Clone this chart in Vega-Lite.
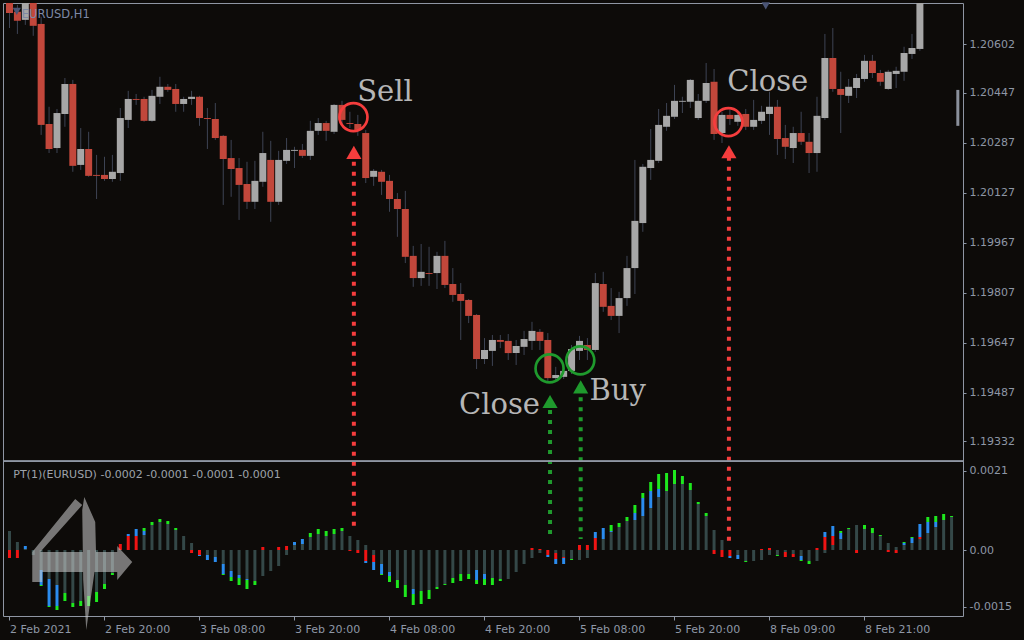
{
  "$schema": "https://vega.github.io/schema/vega-lite/v6.json",
  "width": 960,
  "height": 613,
  "autosize": {"type": "none"},
  "padding": {"left": 3, "top": 3, "right": 61, "bottom": 24},
  "background": "#0d0b09",
  "view": {"stroke": "#8f96a3", "strokeWidth": 1},
  "config": {
    "axis": {"labelFont": "DejaVu Sans", "labelFontSize": 11, "labelColor": "#8e97a6", "tickColor": "#8e97a6", "domain": false, "grid": false, "labelOverlap": false, "labelFlush": false}
  },
  "datasets": {
    "candles": [
      {"i":0,"o":1.20750,"h":1.20770,"l":1.20654,"c":1.20702},
      {"i":1,"o":1.20706,"h":1.20728,"l":1.20635,"c":1.20677},
      {"i":2,"o":1.20680,"h":1.20770,"l":1.20664,"c":1.20750},
      {"i":3,"o":1.20754,"h":1.20770,"l":1.20629,"c":1.20661},
      {"i":4,"o":1.20667,"h":1.20690,"l":1.20312,"c":1.20344},
      {"i":5,"o":1.20347,"h":1.20402,"l":1.20254,"c":1.20267},
      {"i":6,"o":1.20270,"h":1.20395,"l":1.20254,"c":1.20382},
      {"i":7,"o":1.20379,"h":1.20494,"l":1.20338,"c":1.20475},
      {"i":8,"o":1.20475,"h":1.20488,"l":1.20194,"c":1.20213},
      {"i":9,"o":1.20216,"h":1.20334,"l":1.20200,"c":1.20267},
      {"i":10,"o":1.20267,"h":1.20322,"l":1.20178,"c":1.20181},
      {"i":11,"o":1.20184,"h":1.20248,"l":1.20107,"c":1.20181},
      {"i":12,"o":1.20184,"h":1.20242,"l":1.20165,"c":1.20171},
      {"i":13,"o":1.20171,"h":1.20248,"l":1.20162,"c":1.20194},
      {"i":14,"o":1.20190,"h":1.20398,"l":1.20165,"c":1.20366},
      {"i":15,"o":1.20360,"h":1.20453,"l":1.20334,"c":1.20427},
      {"i":16,"o":1.20427,"h":1.20443,"l":1.20408,"c":1.20424},
      {"i":17,"o":1.20427,"h":1.20434,"l":1.20354,"c":1.20357},
      {"i":18,"o":1.20357,"h":1.20456,"l":1.20354,"c":1.20437},
      {"i":19,"o":1.20434,"h":1.20498,"l":1.20411,"c":1.20466},
      {"i":20,"o":1.20466,"h":1.20475,"l":1.20450,"c":1.20456},
      {"i":21,"o":1.20459,"h":1.20475,"l":1.20386,"c":1.20411},
      {"i":22,"o":1.20411,"h":1.20434,"l":1.20386,"c":1.20427},
      {"i":23,"o":1.20427,"h":1.20453,"l":1.20408,"c":1.20434},
      {"i":24,"o":1.20434,"h":1.20437,"l":1.20341,"c":1.20366},
      {"i":25,"o":1.20366,"h":1.20398,"l":1.20267,"c":1.20363},
      {"i":26,"o":1.20363,"h":1.20414,"l":1.20296,"c":1.20302},
      {"i":27,"o":1.20309,"h":1.20312,"l":1.20088,"c":1.20235},
      {"i":28,"o":1.20238,"h":1.20296,"l":1.20114,"c":1.20203},
      {"i":29,"o":1.20206,"h":1.20238,"l":1.20040,"c":1.20152},
      {"i":30,"o":1.20155,"h":1.20226,"l":1.20075,"c":1.20098},
      {"i":31,"o":1.20098,"h":1.20229,"l":1.20075,"c":1.20165},
      {"i":32,"o":1.20162,"h":1.20322,"l":1.20146,"c":1.20254},
      {"i":33,"o":1.20232,"h":1.20293,"l":1.20034,"c":1.20098},
      {"i":34,"o":1.20098,"h":1.20261,"l":1.20088,"c":1.20232},
      {"i":35,"o":1.20229,"h":1.20302,"l":1.20219,"c":1.20264},
      {"i":36,"o":1.20261,"h":1.20274,"l":1.20206,"c":1.20264},
      {"i":37,"o":1.20264,"h":1.20283,"l":1.20238,"c":1.20245},
      {"i":38,"o":1.20245,"h":1.20357,"l":1.20232,"c":1.20325},
      {"i":39,"o":1.20325,"h":1.20366,"l":1.20312,"c":1.20350},
      {"i":40,"o":1.20350,"h":1.20357,"l":1.20293,"c":1.20325},
      {"i":41,"o":1.20322,"h":1.20411,"l":1.20315,"c":1.20408},
      {"i":42,"o":1.20408,"h":1.20421,"l":1.20344,"c":1.20360},
      {"i":43,"o":1.20350,"h":1.20386,"l":1.20334,"c":1.20347},
      {"i":44,"o":1.20347,"h":1.20376,"l":1.20309,"c":1.20328},
      {"i":45,"o":1.20318,"h":1.20328,"l":1.20158,"c":1.20174},
      {"i":46,"o":1.20178,"h":1.20203,"l":1.20149,"c":1.20197},
      {"i":47,"o":1.20194,"h":1.20200,"l":1.20120,"c":1.20162},
      {"i":48,"o":1.20165,"h":1.20184,"l":1.20066,"c":1.20107},
      {"i":49,"o":1.20107,"h":1.20126,"l":1.19986,"c":1.20075},
      {"i":50,"o":1.20075,"h":1.20133,"l":1.19902,"c":1.19922},
      {"i":51,"o":1.19925,"h":1.19957,"l":1.19826,"c":1.19854},
      {"i":52,"o":1.19854,"h":1.19963,"l":1.19829,"c":1.19874},
      {"i":53,"o":1.19870,"h":1.19954,"l":1.19829,"c":1.19867},
      {"i":54,"o":1.19870,"h":1.19938,"l":1.19819,"c":1.19925},
      {"i":55,"o":1.19925,"h":1.19973,"l":1.19822,"c":1.19832},
      {"i":56,"o":1.19835,"h":1.19886,"l":1.19778,"c":1.19800},
      {"i":57,"o":1.19803,"h":1.19838,"l":1.19656,"c":1.19781},
      {"i":58,"o":1.19784,"h":1.19787,"l":1.19710,"c":1.19733},
      {"i":59,"o":1.19736,"h":1.19739,"l":1.19563,"c":1.19595},
      {"i":60,"o":1.19595,"h":1.19662,"l":1.19579,"c":1.19624},
      {"i":61,"o":1.19621,"h":1.19672,"l":1.19573,"c":1.19656},
      {"i":62,"o":1.19656,"h":1.19672,"l":1.19630,"c":1.19650},
      {"i":63,"o":1.19653,"h":1.19675,"l":1.19592,"c":1.19614},
      {"i":64,"o":1.19614,"h":1.19656,"l":1.19576,"c":1.19637},
      {"i":65,"o":1.19634,"h":1.19685,"l":1.19608,"c":1.19659},
      {"i":66,"o":1.19653,"h":1.19714,"l":1.19624,"c":1.19685},
      {"i":67,"o":1.19682,"h":1.19691,"l":1.19624,"c":1.19653},
      {"i":68,"o":1.19656,"h":1.19678,"l":1.19525,"c":1.19534},
      {"i":69,"o":1.19534,"h":1.19570,"l":1.19528,"c":1.19544},
      {"i":70,"o":1.19538,"h":1.19573,"l":1.19531,"c":1.19557},
      {"i":71,"o":1.19557,"h":1.19640,"l":1.19547,"c":1.19627},
      {"i":72,"o":1.19621,"h":1.19669,"l":1.19592,"c":1.19653},
      {"i":73,"o":1.19640,"h":1.19662,"l":1.19592,"c":1.19624},
      {"i":74,"o":1.19624,"h":1.19870,"l":1.19618,"c":1.19838},
      {"i":75,"o":1.19835,"h":1.19874,"l":1.19746,"c":1.19762},
      {"i":76,"o":1.19765,"h":1.19822,"l":1.19720,"c":1.19733},
      {"i":77,"o":1.19733,"h":1.19810,"l":1.19678,"c":1.19790},
      {"i":78,"o":1.19790,"h":1.19925,"l":1.19765,"c":1.19886},
      {"i":79,"o":1.19886,"h":1.20232,"l":1.19803,"c":1.20037},
      {"i":80,"o":1.20030,"h":1.20219,"l":1.20002,"c":1.20210},
      {"i":81,"o":1.20206,"h":1.20331,"l":1.20168,"c":1.20232},
      {"i":82,"o":1.20229,"h":1.20395,"l":1.20222,"c":1.20344},
      {"i":83,"o":1.20338,"h":1.20414,"l":1.20325,"c":1.20373},
      {"i":84,"o":1.20370,"h":1.20472,"l":1.20363,"c":1.20421},
      {"i":85,"o":1.20418,"h":1.20434,"l":1.20382,"c":1.20421},
      {"i":86,"o":1.20418,"h":1.20491,"l":1.20398,"c":1.20488},
      {"i":87,"o":1.20366,"h":1.20443,"l":1.20360,"c":1.20421},
      {"i":88,"o":1.20421,"h":1.20542,"l":1.20414,"c":1.20478},
      {"i":89,"o":1.20482,"h":1.20523,"l":1.20296,"c":1.20315},
      {"i":90,"o":1.20318,"h":1.20386,"l":1.20286,"c":1.20376},
      {"i":91,"o":1.20376,"h":1.20392,"l":1.20344,"c":1.20363},
      {"i":92,"o":1.20354,"h":1.20389,"l":1.20341,"c":1.20376},
      {"i":93,"o":1.20379,"h":1.20395,"l":1.20328,"c":1.20338},
      {"i":94,"o":1.20338,"h":1.20424,"l":1.20328,"c":1.20360},
      {"i":95,"o":1.20357,"h":1.20405,"l":1.20347,"c":1.20386},
      {"i":96,"o":1.20379,"h":1.20450,"l":1.20312,"c":1.20402},
      {"i":97,"o":1.20402,"h":1.20424,"l":1.20248,"c":1.20299},
      {"i":98,"o":1.20302,"h":1.20344,"l":1.20235,"c":1.20274},
      {"i":99,"o":1.20270,"h":1.20338,"l":1.20222,"c":1.20318},
      {"i":100,"o":1.20318,"h":1.20386,"l":1.20280,"c":1.20290},
      {"i":101,"o":1.20290,"h":1.20318,"l":1.20190,"c":1.20254},
      {"i":102,"o":1.20254,"h":1.20434,"l":1.20194,"c":1.20373},
      {"i":103,"o":1.20366,"h":1.20635,"l":1.20360,"c":1.20558},
      {"i":104,"o":1.20558,"h":1.20654,"l":1.20450,"c":1.20459},
      {"i":105,"o":1.20459,"h":1.20514,"l":1.20318,"c":1.20440},
      {"i":106,"o":1.20437,"h":1.20491,"l":1.20414,"c":1.20466},
      {"i":107,"o":1.20462,"h":1.20507,"l":1.20430,"c":1.20494},
      {"i":108,"o":1.20491,"h":1.20568,"l":1.20482,"c":1.20549},
      {"i":109,"o":1.20549,"h":1.20568,"l":1.20494,"c":1.20510},
      {"i":110,"o":1.20510,"h":1.20520,"l":1.20469,"c":1.20482},
      {"i":111,"o":1.20459,"h":1.20520,"l":1.20456,"c":1.20514},
      {"i":112,"o":1.20507,"h":1.20530,"l":1.20462,"c":1.20517},
      {"i":113,"o":1.20514,"h":1.20594,"l":1.20485,"c":1.20574},
      {"i":114,"o":1.20571,"h":1.20635,"l":1.20555,"c":1.20590},
      {"i":115,"o":1.20587,"h":1.20776,"l":1.20581,"c":1.20760}
    ],
    "pt": [
      {"i":0,"s":"grey","a":0,"b":0.000504},{"i":0,"s":"red","a":0,"b":-0.000212},
      {"i":1,"s":"grey","a":0,"b":0.000212},{"i":1,"s":"red","a":0,"b":-0.000212},
      {"i":2,"s":"grey","a":0,"b":0.000027},{"i":2,"s":"blue","a":0.000027,"b":0.000106},
      {"i":3,"s":"grey","a":0,"b":-0.000133},
      {"i":4,"s":"grey","a":0,"b":-0.00053},{"i":4,"s":"blue","a":-0.00053,"b":-0.000928},{"i":4,"s":"green","a":-0.000928,"b":-0.000954},
      {"i":5,"s":"grey","a":0,"b":-0.000769},{"i":5,"s":"blue","a":-0.000769,"b":-0.001484},{"i":5,"s":"green","a":-0.001484,"b":-0.001511},
      {"i":6,"s":"grey","a":0,"b":-0.000928},{"i":6,"s":"blue","a":-0.000928,"b":-0.001484},{"i":6,"s":"green","a":-0.001484,"b":-0.00159},
      {"i":7,"s":"grey","a":0,"b":-0.00114},{"i":7,"s":"green","a":-0.00114,"b":-0.001352},
      {"i":8,"s":"grey","a":0,"b":-0.001405},{"i":8,"s":"green","a":-0.001405,"b":-0.001511},
      {"i":9,"s":"grey","a":0,"b":-0.001352},{"i":9,"s":"green","a":-0.001352,"b":-0.001484},
      {"i":10,"s":"grey","a":0,"b":-0.001219},{"i":10,"s":"green","a":-0.001219,"b":-0.001484},
      {"i":11,"s":"grey","a":0,"b":-0.001113},{"i":11,"s":"green","a":-0.001113,"b":-0.001378},
      {"i":12,"s":"grey","a":0,"b":-0.000901},{"i":12,"s":"green","a":-0.000901,"b":-0.001034},
      {"i":13,"s":"grey","a":0,"b":-0.00061},{"i":13,"s":"green","a":-0.00061,"b":-0.000663},
      {"i":14,"s":"red","a":0,"b":0.000159},
      {"i":15,"s":"red","a":0,"b":0.000371},{"i":15,"s":"blue","a":0.000371,"b":0.000424},
      {"i":16,"s":"red","a":0,"b":0.000371},{"i":16,"s":"blue","a":0.000371,"b":0.000557},
      {"i":17,"s":"grey","a":0,"b":0.000398},{"i":17,"s":"blue","a":0.000398,"b":0.000504},{"i":17,"s":"green","a":0.000504,"b":0.000583},
      {"i":18,"s":"grey","a":0,"b":0.000663},{"i":18,"s":"green","a":0.000663,"b":0.000742},
      {"i":19,"s":"grey","a":0,"b":0.000742},{"i":19,"s":"green","a":0.000742,"b":0.000822},
      {"i":20,"s":"grey","a":0,"b":0.000689},{"i":20,"s":"green","a":0.000689,"b":0.000769},
      {"i":21,"s":"grey","a":0,"b":0.00053},{"i":21,"s":"green","a":0.00053,"b":0.000583},
      {"i":22,"s":"grey","a":0,"b":0.000371},
      {"i":23,"s":"grey","a":0,"b":0.000186},{"i":23,"s":"red","a":0,"b":-0.00008},
      {"i":24,"s":"red","a":0,"b":-0.000133},{"i":24,"s":"blue","a":-0.000133,"b":-0.000159},
      {"i":25,"s":"grey","a":0,"b":-0.000133},{"i":25,"s":"blue","a":-0.000133,"b":-0.000265},
      {"i":26,"s":"grey","a":0,"b":-0.000186},{"i":26,"s":"blue","a":-0.000186,"b":-0.000318},
      {"i":27,"s":"grey","a":0,"b":-0.000371},{"i":27,"s":"blue","a":-0.000371,"b":-0.000636},{"i":27,"s":"green","a":-0.000636,"b":-0.000663},
      {"i":28,"s":"grey","a":0,"b":-0.000557},{"i":28,"s":"blue","a":-0.000557,"b":-0.000716},{"i":28,"s":"green","a":-0.000716,"b":-0.000822},
      {"i":29,"s":"grey","a":0,"b":-0.000663},{"i":29,"s":"blue","a":-0.000663,"b":-0.000742},{"i":29,"s":"green","a":-0.000742,"b":-0.000928},
      {"i":30,"s":"grey","a":0,"b":-0.000769},{"i":30,"s":"blue","a":-0.000769,"b":-0.000795},{"i":30,"s":"green","a":-0.000795,"b":-0.001034},
      {"i":31,"s":"grey","a":0,"b":-0.000822},{"i":31,"s":"green","a":-0.000822,"b":-0.000928},
      {"i":32,"s":"grey","a":0,"b":-0.000689},{"i":32,"s":"red","a":0,"b":0.00008},
      {"i":33,"s":"grey","a":0,"b":-0.000557},
      {"i":34,"s":"grey","a":0,"b":-0.000424},{"i":34,"s":"red","a":0,"b":0.00008},
      {"i":35,"s":"grey","a":0,"b":-0.000133},{"i":35,"s":"red","a":0,"b":0.000106},
      {"i":36,"s":"grey","a":0,"b":0.000133},{"i":36,"s":"blue","a":0.000133,"b":0.000212},
      {"i":37,"s":"grey","a":0,"b":0.000159},{"i":37,"s":"blue","a":0.000159,"b":0.000292},
      {"i":38,"s":"grey","a":0,"b":0.000345},{"i":38,"s":"green","a":0.000345,"b":0.000451},
      {"i":39,"s":"grey","a":0,"b":0.000424},{"i":39,"s":"green","a":0.000424,"b":0.000557},
      {"i":40,"s":"grey","a":0,"b":0.000371},{"i":40,"s":"green","a":0.000371,"b":0.000504},
      {"i":41,"s":"grey","a":0,"b":0.000424},{"i":41,"s":"green","a":0.000424,"b":0.000557},
      {"i":42,"s":"grey","a":0,"b":0.000504},{"i":42,"s":"green","a":0.000504,"b":0.000583},
      {"i":43,"s":"grey","a":0,"b":0.000371},{"i":43,"s":"red","a":0,"b":-0.000027},
      {"i":44,"s":"grey","a":0,"b":0.000265},{"i":44,"s":"red","a":0,"b":-0.00008},
      {"i":45,"s":"grey","a":0,"b":0.000133},{"i":45,"s":"red","a":0,"b":-0.000292},{"i":45,"s":"blue","a":-0.000292,"b":-0.000345},
      {"i":46,"s":"grey","a":0,"b":-0.000133},{"i":46,"s":"red","a":-0.000133,"b":-0.000318},{"i":46,"s":"blue","a":-0.000318,"b":-0.00053},
      {"i":47,"s":"grey","a":0,"b":-0.000371},{"i":47,"s":"blue","a":-0.000371,"b":-0.000636},{"i":47,"s":"green","a":-0.000636,"b":-0.000663},
      {"i":48,"s":"grey","a":0,"b":-0.000583},{"i":48,"s":"blue","a":-0.000583,"b":-0.000689},{"i":48,"s":"green","a":-0.000689,"b":-0.000848},
      {"i":49,"s":"grey","a":0,"b":-0.000795},{"i":49,"s":"green","a":-0.000795,"b":-0.001007},
      {"i":50,"s":"grey","a":0,"b":-0.000928},{"i":50,"s":"green","a":-0.000928,"b":-0.001246},
      {"i":51,"s":"grey","a":0,"b":-0.001034},{"i":51,"s":"blue","a":-0.001034,"b":-0.001166},{"i":51,"s":"green","a":-0.001166,"b":-0.001458},
      {"i":52,"s":"grey","a":0,"b":-0.001087},{"i":52,"s":"green","a":-0.001087,"b":-0.001431},
      {"i":53,"s":"grey","a":0,"b":-0.00106},{"i":53,"s":"green","a":-0.00106,"b":-0.001299},
      {"i":54,"s":"grey","a":0,"b":-0.000981},{"i":54,"s":"green","a":-0.000981,"b":-0.001034},
      {"i":55,"s":"grey","a":0,"b":-0.000901},{"i":55,"s":"green","a":-0.000901,"b":-0.000928},
      {"i":56,"s":"grey","a":0,"b":-0.000742},{"i":56,"s":"green","a":-0.000742,"b":-0.000875},
      {"i":57,"s":"grey","a":0,"b":-0.000636},{"i":57,"s":"green","a":-0.000636,"b":-0.000822},
      {"i":58,"s":"grey","a":0,"b":-0.000636},{"i":58,"s":"green","a":-0.000636,"b":-0.000769},
      {"i":59,"s":"grey","a":0,"b":-0.00053},{"i":59,"s":"blue","a":-0.00053,"b":-0.000795},{"i":59,"s":"green","a":-0.000795,"b":-0.000901},
      {"i":60,"s":"grey","a":0,"b":-0.000636},{"i":60,"s":"blue","a":-0.000636,"b":-0.000769},{"i":60,"s":"green","a":-0.000769,"b":-0.000928},
      {"i":61,"s":"grey","a":0,"b":-0.000742},{"i":61,"s":"green","a":-0.000742,"b":-0.000928},
      {"i":62,"s":"grey","a":0,"b":-0.000769},{"i":62,"s":"green","a":-0.000769,"b":-0.000822},
      {"i":63,"s":"grey","a":0,"b":-0.000769},
      {"i":64,"s":"grey","a":0,"b":-0.000583},
      {"i":65,"s":"grey","a":0,"b":-0.000371},
      {"i":66,"s":"grey","a":0,"b":-0.000212},{"i":66,"s":"red","a":0,"b":0.000053},
      {"i":67,"s":"grey","a":0,"b":-0.00008},{"i":67,"s":"red","a":0,"b":0.000027},
      {"i":68,"s":"red","a":0,"b":-0.000133},{"i":68,"s":"blue","a":-0.000133,"b":-0.000186},
      {"i":69,"s":"grey","a":0,"b":-0.00008},{"i":69,"s":"red","a":-0.00008,"b":-0.000239},{"i":69,"s":"blue","a":-0.000239,"b":-0.000371},
      {"i":70,"s":"grey","a":0,"b":-0.000186},{"i":70,"s":"red","a":-0.000186,"b":-0.000212},{"i":70,"s":"blue","a":-0.000212,"b":-0.000371},
      {"i":71,"s":"grey","a":0,"b":-0.000239},{"i":71,"s":"green","a":-0.000239,"b":-0.000265},
      {"i":72,"s":"grey","a":0,"b":-0.000265},{"i":72,"s":"red","a":0,"b":0.000133},
      {"i":73,"s":"grey","a":0,"b":-0.000212},{"i":73,"s":"red","a":0,"b":0.000133},
      {"i":74,"s":"red","a":0,"b":0.000318},{"i":74,"s":"blue","a":0.000318,"b":0.000477},
      {"i":75,"s":"grey","a":0,"b":0.000292},{"i":75,"s":"blue","a":0.000292,"b":0.000583},
      {"i":76,"s":"grey","a":0,"b":0.000477},{"i":76,"s":"blue","a":0.000477,"b":0.000504},{"i":76,"s":"green","a":0.000504,"b":0.000663},
      {"i":77,"s":"grey","a":0,"b":0.00061},{"i":77,"s":"green","a":0.00061,"b":0.000716},
      {"i":78,"s":"grey","a":0,"b":0.000769},{"i":78,"s":"green","a":0.000769,"b":0.000875},
      {"i":79,"s":"grey","a":0,"b":0.000795},{"i":79,"s":"blue","a":0.000795,"b":0.000981},{"i":79,"s":"green","a":0.000981,"b":0.001193},
      {"i":80,"s":"grey","a":0,"b":0.000901},{"i":80,"s":"blue","a":0.000901,"b":0.001378},{"i":80,"s":"green","a":0.001378,"b":0.001511},
      {"i":81,"s":"grey","a":0,"b":0.001113},{"i":81,"s":"blue","a":0.001113,"b":0.001564},{"i":81,"s":"green","a":0.001564,"b":0.001802},
      {"i":82,"s":"grey","a":0,"b":0.001405},{"i":82,"s":"blue","a":0.001405,"b":0.001617},{"i":82,"s":"green","a":0.001617,"b":0.002014},
      {"i":83,"s":"grey","a":0,"b":0.001564},{"i":83,"s":"green","a":0.001564,"b":0.002041},
      {"i":84,"s":"grey","a":0,"b":0.001749},{"i":84,"s":"green","a":0.001749,"b":0.00212},
      {"i":85,"s":"grey","a":0,"b":0.001749},{"i":85,"s":"green","a":0.001749,"b":0.001961},
      {"i":86,"s":"grey","a":0,"b":0.00159},{"i":86,"s":"green","a":0.00159,"b":0.001776},
      {"i":87,"s":"grey","a":0,"b":0.001219},{"i":87,"s":"green","a":0.001219,"b":0.001272},
      {"i":88,"s":"grey","a":0,"b":0.000901},{"i":88,"s":"green","a":0.000901,"b":0.000981},
      {"i":89,"s":"grey","a":0,"b":0.00053},{"i":89,"s":"red","a":0,"b":-0.000106},
      {"i":90,"s":"grey","a":0,"b":0.000265},{"i":90,"s":"red","a":0,"b":-0.000186},
      {"i":91,"s":"red","a":0,"b":-0.000159},{"i":91,"s":"blue","a":-0.000159,"b":-0.000212},
      {"i":92,"s":"grey","a":0,"b":-0.000133},{"i":92,"s":"blue","a":-0.000133,"b":-0.000239},
      {"i":93,"s":"grey","a":0,"b":-0.000292},{"i":93,"s":"green","a":-0.000292,"b":-0.000318},
      {"i":94,"s":"grey","a":0,"b":-0.000292},
      {"i":95,"s":"grey","a":0,"b":-0.000265},{"i":95,"s":"red","a":0,"b":0.000027},
      {"i":96,"s":"grey","a":0,"b":-0.000133},{"i":96,"s":"red","a":0,"b":0.000053},
      {"i":97,"s":"grey","a":0,"b":-0.000133},{"i":97,"s":"green","a":-0.000133,"b":-0.000159},
      {"i":98,"s":"grey","a":0,"b":-0.000053},{"i":98,"s":"red","a":-0.000053,"b":-0.000186},
      {"i":99,"s":"grey","a":0,"b":-0.000106},{"i":99,"s":"red","a":-0.000106,"b":-0.000186},
      {"i":100,"s":"grey","a":0,"b":-0.000159},{"i":100,"s":"blue","a":-0.000159,"b":-0.000265},{"i":100,"s":"green","a":-0.000265,"b":-0.000292},
      {"i":101,"s":"grey","a":0,"b":-0.000292},{"i":101,"s":"green","a":-0.000292,"b":-0.000371},
      {"i":102,"s":"grey","a":0,"b":-0.000292},{"i":102,"s":"red","a":0,"b":0.000053},
      {"i":103,"s":"grey","a":0,"b":-0.00008},{"i":103,"s":"red","a":0,"b":0.000345},{"i":103,"s":"blue","a":0.000345,"b":0.000477},
      {"i":104,"s":"grey","a":0,"b":0.000133},{"i":104,"s":"red","a":0.000133,"b":0.000371},{"i":104,"s":"blue","a":0.000371,"b":0.000636},
      {"i":105,"s":"grey","a":0,"b":0.000292},{"i":105,"s":"blue","a":0.000292,"b":0.000451},{"i":105,"s":"green","a":0.000451,"b":0.000504},
      {"i":106,"s":"grey","a":0,"b":0.000557},{"i":106,"s":"green","a":0.000557,"b":0.000583},
      {"i":107,"s":"grey","a":0,"b":0.000663},{"i":107,"s":"red","a":0,"b":-0.00008},
      {"i":108,"s":"grey","a":0,"b":0.000557},{"i":108,"s":"green","a":0.000557,"b":0.000663},
      {"i":109,"s":"grey","a":0,"b":0.000451},{"i":109,"s":"green","a":0.000451,"b":0.000583},
      {"i":110,"s":"grey","a":0,"b":0.000371},{"i":110,"s":"green","a":0.000371,"b":0.000398},
      {"i":111,"s":"grey","a":0,"b":0.000186},{"i":111,"s":"red","a":0,"b":-0.000053},
      {"i":112,"s":"grey","a":0,"b":0.00008},{"i":112,"s":"red","a":0,"b":-0.00008},
      {"i":113,"s":"grey","a":0,"b":0.000133},{"i":113,"s":"blue","a":0.000133,"b":0.000186},{"i":113,"s":"green","a":0.000186,"b":0.000212},
      {"i":114,"s":"grey","a":0,"b":0.000186},{"i":114,"s":"blue","a":0.000186,"b":0.000318},{"i":114,"s":"green","a":0.000318,"b":0.000345},
      {"i":115,"s":"grey","a":0,"b":0.000292},{"i":115,"s":"red","a":0.000292,"b":0.000345},{"i":115,"s":"blue","a":0.000345,"b":0.000689},
      {"i":116,"s":"grey","a":0,"b":0.000451},{"i":116,"s":"blue","a":0.000451,"b":0.000742},{"i":116,"s":"green","a":0.000742,"b":0.000875},
      {"i":117,"s":"grey","a":0,"b":0.00061},{"i":117,"s":"blue","a":0.00061,"b":0.000742},{"i":117,"s":"green","a":0.000742,"b":0.000901},
      {"i":118,"s":"grey","a":0,"b":0.000795},{"i":118,"s":"green","a":0.000795,"b":0.000954},
      {"i":119,"s":"grey","a":0,"b":0.000875},{"i":119,"s":"green","a":0.000875,"b":0.000901}
    ]
  },
  "layer": [
    {
      "data": {"name": "candles"},
      "mark": {"type": "rule", "color": "#3e4454", "strokeWidth": 1, "clip": true},
      "encoding": {
        "x": {"field": "i", "type": "quantitative", "scale": {"domain": [-0.1875, 119.8125], "nice": false, "zero": false}, "axis": null},
        "y": {"field": "l", "type": "quantitative", "scale": {"domain": [1.19272, 1.20734], "range": [457, 0], "nice": false, "zero": false}, "axis": null},
        "y2": {"field": "h"}
      }
    },
    {
      "data": {"name": "candles"},
      "mark": {"type": "bar", "width": 7, "clip": true},
      "encoding": {
        "x": {"field": "i", "type": "quantitative", "scale": {"domain": [-0.1875, 119.8125], "nice": false, "zero": false}, "axis": null},
        "y": {"field": "o", "type": "quantitative", "scale": {"domain": [1.19272, 1.20734], "range": [457, 0], "nice": false, "zero": false},
              "axis": {"orient": "right", "values": [1.19332, 1.19487, 1.19647, 1.19807, 1.19967, 1.20127, 1.20287, 1.20447, 1.20602], "format": ".5f", "tickSize": 3, "labelPadding": 3, "title": null}},
        "y2": {"field": "c"},
        "color": {"condition": {"test": "datum.c >= datum.o", "value": "#a7a7a7"}, "value": "#c2473b"}
      }
    },
    {
      "data": {"values": [{"i": 1.56, "p": 1.20686, "t": "EURUSD,H1"}]},
      "mark": {"type": "text", "align": "left", "baseline": "alphabetic", "font": "DejaVu Sans", "fontSize": 11.5, "color": "#7d89a6"},
      "encoding": {
        "x": {"field": "i", "type": "quantitative", "scale": {"domain": [-0.1875, 119.8125], "nice": false, "zero": false}, "axis": null},
        "y": {"field": "p", "type": "quantitative", "scale": {"domain": [1.19272, 1.20734], "range": [457, 0], "nice": false, "zero": false}, "axis": null},
        "text": {"field": "t"}
      }
    },
    {
      "data": {"values": [
        {"i": 43.5, "y1": 1.20226, "y2": 1.19058, "side": "short"},
        {"i": 90.875, "y1": 1.20242, "y2": 1.19013, "side": "short"},
        {"i": 68.28, "y1": 1.19432, "y2": 1.19019, "side": "long"},
        {"i": 72.15, "y1": 1.19473, "y2": 1.19019, "side": "long"}
      ]},
      "mark": {"type": "rule", "strokeWidth": 4, "strokeDash": [4, 6], "strokeCap": "butt"},
      "encoding": {
        "x": {"field": "i", "type": "quantitative", "scale": {"domain": [-0.1875, 119.8125], "nice": false, "zero": false}, "axis": null},
        "y": {"field": "y1", "type": "quantitative", "scale": {"domain": [1.19272, 1.20734], "range": [457, 0], "nice": false, "zero": false}, "axis": null},
        "y2": {"field": "y2"},
        "color": {"field": "side", "type": "nominal", "scale": {"domain": ["short", "long"], "range": ["#f53d3d", "#1f9a2d"]}, "legend": null}
      }
    },
    {
      "data": {"values": [
        {"i": 43.5, "p": 1.20256, "side": "short"},
        {"i": 90.875, "p": 1.20258, "side": "short"},
        {"i": 68.28, "p": 1.19459, "side": "long"},
        {"i": 72.15, "p": 1.19506, "side": "long"}
      ]},
      "mark": {"type": "point", "shape": "triangle-up", "filled": true, "size": 230, "opacity": 1},
      "encoding": {
        "x": {"field": "i", "type": "quantitative", "scale": {"domain": [-0.1875, 119.8125], "nice": false, "zero": false}, "axis": null},
        "y": {"field": "p", "type": "quantitative", "scale": {"domain": [1.19272, 1.20734], "range": [457, 0], "nice": false, "zero": false}, "axis": null},
        "color": {"field": "side", "type": "nominal", "scale": {"domain": ["short", "long"], "range": ["#f53d3d", "#1f9a2d"]}, "legend": null}
      }
    },
    {
      "data": {"values": [
        {"i": 43.45, "p": 1.20369, "side": "short"},
        {"i": 90.81, "p": 1.20353, "side": "short"},
        {"i": 68.22, "p": 1.19565, "side": "long"},
        {"i": 72.1, "p": 1.19591, "side": "long"}
      ]},
      "mark": {"type": "point", "shape": "circle", "filled": false, "size": 784, "strokeWidth": 2.7, "opacity": 1},
      "encoding": {
        "x": {"field": "i", "type": "quantitative", "scale": {"domain": [-0.1875, 119.8125], "nice": false, "zero": false}, "axis": null},
        "y": {"field": "p", "type": "quantitative", "scale": {"domain": [1.19272, 1.20734], "range": [457, 0], "nice": false, "zero": false}, "axis": null},
        "color": {"field": "side", "type": "nominal", "scale": {"domain": ["short", "long"], "range": ["#f53d3d", "#1f9a2d"]}, "legend": null}
      }
    },
    {
      "data": {"values": [
        {"i": 47.44, "p": 1.20421, "t": "Sell"},
        {"i": 95.78, "p": 1.20453, "t": "Close"},
        {"i": 61.9, "p": 1.19419, "t": "Close"},
        {"i": 76.84, "p": 1.19464, "t": "Buy"}
      ]},
      "mark": {"type": "text", "align": "center", "baseline": "alphabetic", "font": "DejaVu Serif", "fontSize": 29, "color": "#b6b6b6"},
      "encoding": {
        "x": {"field": "i", "type": "quantitative", "scale": {"domain": [-0.1875, 119.8125], "nice": false, "zero": false}, "axis": null},
        "y": {"field": "p", "type": "quantitative", "scale": {"domain": [1.19272, 1.20734], "range": [457, 0], "nice": false, "zero": false}, "axis": null},
        "text": {"field": "t"}
      }
    },
    {
      "data": {"values": [{"i": 0.92, "p": 1.20707}, {"i": 95.53, "p": 1.20725}]},
      "mark": {"type": "point", "shape": "triangle-down", "filled": true, "size": 70, "opacity": 1, "color": "#4a5474"},
      "encoding": {
        "x": {"field": "i", "type": "quantitative", "scale": {"domain": [-0.1875, 119.8125], "nice": false, "zero": false}, "axis": null},
        "y": {"field": "p", "type": "quantitative", "scale": {"domain": [1.19272, 1.20734], "range": [457, 0], "nice": false, "zero": false}, "axis": null}
      }
    },
    {
      "data": {"values": [{"i1": 119.6, "i2": 119.98, "p1": 1.20456, "p2": 1.20341}]},
      "mark": {"type": "rect", "color": "#8a909b"},
      "encoding": {
        "x": {"field": "i1", "type": "quantitative", "scale": {"domain": [-0.1875, 119.8125], "nice": false, "zero": false}, "axis": null},
        "x2": {"field": "i2"},
        "y": {"field": "p1", "type": "quantitative", "scale": {"domain": [1.19272, 1.20734], "range": [457, 0], "nice": false, "zero": false}, "axis": null},
        "y2": {"field": "p2"}
      }
    },
    {
      "data": {"values": [{"p": 1.1927}]},
      "mark": {"type": "rule", "color": "#8f96a3", "strokeWidth": 1},
      "encoding": {
        "y": {"field": "p", "type": "quantitative", "scale": {"domain": [1.19272, 1.20734], "range": [457, 0], "nice": false, "zero": false}, "axis": null}
      }
    },
    {
      "data": {"name": "pt"},
      "mark": {"type": "bar", "width": 3},
      "encoding": {
        "x": {"field": "i", "type": "quantitative", "scale": {"domain": [-0.1875, 119.8125], "nice": false, "zero": false},
              "axis": {"orient": "bottom", "values": [0, 12, 24, 36, 48, 60, 72, 84, 96, 108], "labelExpr": "['2 Feb 2021','2 Feb 20:00','3 Feb 08:00','3 Feb 20:00','4 Feb 08:00','4 Feb 20:00','5 Feb 08:00','5 Feb 20:00','8 Feb 09:00','8 Feb 21:00'][round(datum.value/12)]", "tickSize": 4, "labelPadding": 12, "labelBaseline": "alphabetic", "labelAlign": "left", "title": null}},
        "y": {"field": "a", "type": "quantitative", "scale": {"domain": [-0.001749, 0.002332], "range": [613, 459], "nice": false, "zero": false},
              "axis": {"orient": "right", "values": [0.0021, 0, -0.0015], "labelExpr": "datum.value > 0.001 ? '0.0021' : (datum.value < -0.001 ? '-0.0015' : '0.00')", "tickSize": 3, "labelPadding": 3, "title": null}},
        "y2": {"field": "b"},
        "color": {"field": "s", "type": "nominal", "scale": {"domain": ["grey", "blue", "green", "red"], "range": ["#344848", "#2b8cee", "#1ee81e", "#f01414"]}, "legend": null}
      }
    },
    {
      "data": {"values": [{"i": 9.19, "v": -0.000318}]},
      "mark": {"type": "point", "filled": true, "size": 16900, "opacity": 0.55, "color": "#d0d0d0", "strokeWidth": 0,
               "shape": "M0.031,-1 L0.2,-0.615 L0.215,-0.031 L0.062,1.046 L0.015,0.277 L0,-0.8 Z M-0.108,-0.969 L0,-0.877 L-0.646,-0.154 L-0.769,-0.154 Z M-0.769,-0.154 L0.569,-0.154 L0.569,0.154 L-0.769,0.154 Z M-0.769,-0.154 L-0.615,-0.154 L-0.615,0.308 L-0.769,0.308 Z M0.538,-0.246 L0.769,0 L0.538,0.277 Z"},
      "encoding": {
        "x": {"field": "i", "type": "quantitative", "scale": {"domain": [-0.1875, 119.8125], "nice": false, "zero": false}, "axis": null},
        "y": {"field": "v", "type": "quantitative", "scale": {"domain": [-0.001749, 0.002332], "range": [613, 459], "nice": false, "zero": false}, "axis": null}
      }
    },
    {
      "data": {"values": [{"i": 0.475, "v": 0.001908, "t": "PT(1)(EURUSD) -0.0002 -0.0001 -0.0001 -0.0001"}]},
      "mark": {"type": "text", "align": "left", "baseline": "alphabetic", "font": "DejaVu Sans", "fontSize": 11, "color": "#9ea3ab"},
      "encoding": {
        "x": {"field": "i", "type": "quantitative", "scale": {"domain": [-0.1875, 119.8125], "nice": false, "zero": false}, "axis": null},
        "y": {"field": "v", "type": "quantitative", "scale": {"domain": [-0.001749, 0.002332], "range": [613, 459], "nice": false, "zero": false}, "axis": null},
        "text": {"field": "t"}
      }
    },
    {
      "data": {"values": [{"v": 0.002345}]},
      "mark": {"type": "rule", "color": "#8f96a3", "strokeWidth": 1},
      "encoding": {
        "y": {"field": "v", "type": "quantitative", "scale": {"domain": [-0.001749, 0.002332], "range": [613, 459], "nice": false, "zero": false}, "axis": null}
      }
    }
  ],
  "resolve": {"scale": {"y": "independent", "color": "independent"}, "axis": {"x": "independent", "y": "independent"}}
}
